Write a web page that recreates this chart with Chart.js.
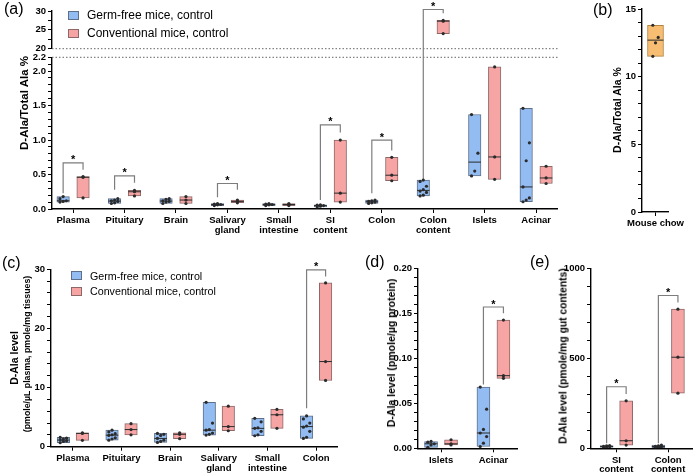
<!DOCTYPE html>
<html>
<head>
<meta charset="utf-8">
<script src="https://cdn.jsdelivr.net/npm/chart.js@4.4.1/dist/chart.umd.min.js"></script>
<style>
body { margin: 0; background: #fff; font-family: "Liberation Sans", Arial, sans-serif; }
#fig { position: relative; width: 700px; height: 476px; overflow: hidden; }
canvas { position: absolute; }
.tag { position: absolute; font-size: 16px; line-height: 16px; }
.ytitle { position: absolute; font-weight: bold; white-space: nowrap; transform: translate(-50%, -50%) rotate(-90deg); }
.legend { position: absolute; }
.legend .row { display: flex; align-items: center; white-space: nowrap; }
.legend .sw { display: inline-block; box-sizing: border-box; border: 1px solid #666; }
</style>
</head>
<body>
<div id="fig">
  <canvas id="chartATop" width="565" height="56" style="left:0;top:0"></canvas>
  <canvas id="chartA" width="565" height="200" style="left:0;top:40px"></canvas>
  <canvas id="chartB" width="100" height="235" style="left:600px;top:0"></canvas>
  <canvas id="chartC" width="345" height="236" style="left:0;top:240px"></canvas>
  <canvas id="chartD" width="185" height="236" style="left:340px;top:240px"></canvas>
  <canvas id="chartE" width="170" height="236" style="left:530px;top:240px"></canvas>

  <div class="tag" style="left:4px;top:1px">(a)</div>
  <div class="tag" style="left:593px;top:2px">(b)</div>
  <div class="tag" style="left:2px;top:255px">(c)</div>
  <div class="tag" style="left:365px;top:254px">(d)</div>
  <div class="tag" style="left:530px;top:254px">(e)</div>

  <div class="ytitle" style="left:24px;top:103px;font-size:11.5px">D-Ala/Total Ala %</div>
  <div class="ytitle" style="left:617px;top:110px;font-size:10.5px">D-Ala/Total Ala %</div>
  <div class="ytitle" style="left:14px;top:358px;font-size:10.5px">D-Ala level</div>
  <div class="ytitle" style="left:27px;top:354px;font-size:8.8px">(pmole/µL plasma, pmole/mg tissues)</div>
  <div class="ytitle" style="left:391px;top:353px;font-size:10.5px">D-Ala level (pmole/µg protein)</div>
  <div class="ytitle" style="left:563px;top:356px;font-size:10.3px">D-Ala level (pmole/mg gut contents)</div>

  <div class="legend" style="left:68px;top:6px;font-size:12px">
    <div class="row" style="height:18px"><span class="sw" style="width:11px;height:9px;background:#93bcf2;border-color:#5d6f8a;margin-right:8px"></span>Germ-free mice, control</div>
    <div class="row" style="height:18px"><span class="sw" style="width:11px;height:9px;background:#f6a4a4;border-color:#8e6767;margin-right:8px"></span>Conventional mice, control</div>
  </div>
  <div class="legend" style="left:71px;top:268px;font-size:10.7px">
    <div class="row" style="height:15.5px"><span class="sw" style="width:11px;height:9px;background:#93bcf2;border-color:#5d6f8a;margin-right:8px"></span>Germ-free mice, control</div>
    <div class="row" style="height:15.5px"><span class="sw" style="width:11px;height:9px;background:#f6a4a4;border-color:#8e6767;margin-right:8px"></span>Conventional mice, control</div>
  </div>
</div>

<script>
// ---- panel (a): D-Ala / total Ala % ----
const catsA = ['Plasma', 'Pituitary', 'Brain', ['Salivary', 'gland'], ['Small', 'intestine'],
               ['SI', 'content'], 'Colon', ['Colon', 'content'], 'Islets', 'Acinar'];
const germFreeA = [
    [0.10, 0.11, 0.12, 0.15, 0.18],
    [0.08, 0.09, 0.11, 0.12, 0.13, 0.15],
    [0.08, 0.10, 0.11, 0.12, 0.14, 0.15],
    [0.05, 0.06, 0.065, 0.07, 0.08],
    [0.05, 0.06, 0.065, 0.07, 0.08],
    [0.03, 0.04, 0.05, 0.055, 0.06],
    [0.08, 0.09, 0.10, 0.11, 0.12, 0.13],
    [0.19, 0.20, 0.24, 0.26, 0.28, 0.33, 0.40, 0.42],
    [0.48, 0.55, 0.81, 1.37],
    [0.105, 0.13, 0.16, 0.32, 0.70, 0.96, 1.46]
];
const conventionalA = [
    [0.16, 0.46, 0.47],
    [0.19, 0.25, 0.27],
    [0.08, 0.13, 0.18],
    [0.09, 0.11, 0.13],
    [0.05, 0.065, 0.08],
    [0.10, 0.23, 1.00],
    [0.41, 0.49, 0.75],
    [24.0, 27.3, 27.5],
    [0.43, 0.755, 2.06],
    [0.37, 0.45, 0.62]
];
// [category, left leg start, bracket level, right leg end]
const sigA = [[0, 0.23, 0.67, 0.57], [1, 0.28, 0.48, 0.38], [3, 0.17, 0.37, 0.28],
              [5, 0.13, 1.22, 1.11], [6, 0.23, 1.00, 0.85], [7, 0.25, 30.4, 29.4]];

// ---- panel (b) ----
const catsB = ['Mouse chow'];
const chowB = [[11.5, 12.5, 12.9, 13.8]];

// ---- panel (c): D-Ala level in plasma / tissues ----
const catsC = ['Plasma', 'Pituitary', 'Brain', ['Salivary', 'gland'], ['Small', 'intestine'], 'Colon'];
const germFreeC = [
    [0.67, 0.9, 1.0, 1.12, 1.3, 1.45, 1.57],
    [1.1, 1.3, 1.5, 1.9, 2.0, 2.2, 2.5, 2.8],
    [0.73, 0.9, 1.1, 1.4, 1.9, 2.1, 2.25],
    [1.97, 2.1, 2.3, 2.8, 2.9, 4.0, 7.5],
    [1.85, 2.0, 2.6, 3.1, 3.2, 4.2, 4.8],
    [1.4, 1.6, 2.6, 3.3, 3.5, 4.0, 4.7, 5.2]
];
const conventionalC = [[1.07, 2.25, 2.36], [2.0, 2.9, 3.9], [1.35, 2.1, 2.36],
                       [2.7, 3.4, 6.85], [3.1, 5.4, 6.3], [11.2, 14.4, 27.7]];
const sigC = [[5, 6.5, 29.9, 28.8]];

// ---- panel (d): pancreas ----
const catsD = ['Islets', 'Acinar'];
const germFreeD = [[0.0011, 0.0038, 0.005, 0.0068, 0.0076],
                   [0.002, 0.0057, 0.013, 0.017, 0.021, 0.0435, 0.068]];
const conventionalD = [[0.0038, 0.005, 0.0095], [0.0777, 0.0807, 0.1425]];
const sigD = [[1, 0.071, 0.157, 0.150]];

// ---- panel (e): gut contents ----
const catsE = [['SI', 'content'], ['Colon', 'content']];
const germFreeE = [[5, 7, 9, 11, 13, 15], [4, 6, 9, 11, 14, 18]];
const conventionalE = [[18, 42, 264], [306, 506, 773]];
const sigE = [[0, 28, 342, 302], [1, 28, 849, 810]];

const BLUE = '#93bcf2', BLUE_EDGE = '#5d6f8a';
const RED = '#f6a4a4', RED_EDGE = '#8e6767';
const ORANGE = '#f7bd72', ORANGE_EDGE = '#b3843f';
const DARK = '#2b2b2b';

Chart.defaults.font.family = '"Liberation Sans", Arial, sans-serif';
Chart.defaults.color = '#000';

function median(arr) {
    const s = arr.slice().sort((a, b) => a - b);
    const m = Math.floor(s.length / 2);
    return s.length % 2 ? s[m] : (s[m - 1] + s[m]) / 2;
}

function steps(min, max, step) {
    const out = [];
    const n = Math.round((max - min) / step);
    for (let k = 0; k <= n; k++) out.push(+(min + k * step).toFixed(6));
    return out;
}

const starPlugin = {
    id: 'stars',
    afterDatasetsDraw(chart, args, opts) {
        const { ctx } = chart;
        const xs = chart.scales.x, ys = chart.scales.y;
        (opts.items || []).forEach(s => {
            if (s.y < ys.min || s.y > ys.max + 0.05 * (ys.max - ys.min)) return;
            ctx.save();
            ctx.font = 'bold 11px "Liberation Sans", Arial, sans-serif';
            ctx.textAlign = 'center';
            ctx.textBaseline = 'alphabetic';
            ctx.fillStyle = '#000';
            ctx.fillText('*', xs.getPixelForValue(s.x), ys.getPixelForValue(s.y) + 0.5);
            ctx.restore();
        });
    }
};

function boxPanel(id, o) {
    const canvas = document.getElementById(id);
    const W = canvas.width, H = canvas.height;
    const pxPerUnit = (o.area.right - o.area.left) / (o.xMax - o.xMin);
    const u = px => px / pxPerUnit;
    const datasets = [];

    o.series.forEach(s => {
        const off = u(s.offPx);
        datasets.push({
            type: 'bar',
            data: s.values.map((p, i) => ({ x: i + off, y: [Math.min(...p), Math.max(...p)] })),
            backgroundColor: s.fill,
            borderColor: s.edge,
            borderWidth: 1,
            borderSkipped: false,
            barThickness: o.boxW,
            grouped: false,
            order: 3
        });
        datasets.push({
            type: 'scatter',
            data: s.values.map((p, i) => ({ x: i + off, y: median(p) })),
            pointStyle: 'line',
            pointRadius: o.boxW / 2,
            pointHoverRadius: o.boxW / 2,
            pointBorderColor: DARK,
            pointBorderWidth: 1,
            order: 2
        });
        const pts = [];
        s.values.forEach((p, i) => {
            p.slice().sort((a, b) => a - b).forEach((v, k) => {
                const j = p.length > 3 ? ((k % 3) - 1) * 3.2 : 0;
                pts.push({ x: i + off + u(j), y: v });
            });
        });
        datasets.push({
            type: 'scatter',
            data: pts,
            pointStyle: 'circle',
            pointRadius: 1.6,
            pointHoverRadius: 1.6,
            pointBackgroundColor: DARK,
            pointBorderWidth: 0,
            order: 1
        });
    });

    const stars = [];
    (o.brackets || []).forEach(b => {
        const [i, y0, yb, y1] = b;
        const xl = i + u(o.series[0].offPx), xr = i + u(o.series[1].offPx);
        datasets.push({
            type: 'line',
            data: [{ x: xl, y: y0 }, { x: xl, y: yb }, { x: xr, y: yb }, { x: xr, y: y1 }],
            borderColor: '#7d7d7d',
            borderWidth: 1.2,
            pointRadius: 0,
            tension: 0,
            clip: o.bracketClip || false,
            order: 4
        });
        stars.push({ x: (xl + xr) / 2, y: yb });
    });

    (o.breakLines || []).forEach(v => {
        datasets.push({
            type: 'line',
            data: [{ x: o.xMin, y: v }, { x: o.xMax, y: v }],
            borderColor: '#666',
            borderWidth: 1,
            borderDash: [1.5, 2],
            pointRadius: 0,
            clip: false,
            order: 5
        });
    });

    const showX = o.showX !== false;
    const tickFont = { size: 9.5, weight: 'bold', lineHeight: 1.02 };
    const grid = { display: true, drawOnChartArea: false, drawTicks: true, tickLength: 4, color: '#000', lineWidth: 1, offset: false };

    return new Chart(canvas, {
        type: 'bar',
        data: { datasets: datasets },
        plugins: [starPlugin],
        options: {
            responsive: false,
            animation: false,
            devicePixelRatio: 1,
            layout: {
                padding: {
                    left: o.area.left - o.yAxisW,
                    top: o.area.top,
                    right: W - o.area.right,
                    bottom: H - o.area.bottom - (showX ? o.xAxisH : 0)
                }
            },
            scales: {
                x: {
                    type: 'linear',
                    display: showX,
                    min: o.xMin,
                    max: o.xMax,
                    offset: false,
                    afterBuildTicks: s => { s.ticks = o.cats.map((c, i) => ({ value: i })); },
                    afterFit: s => { s.height = o.xAxisH; },
                    ticks: { autoSkip: false, maxRotation: 0, font: tickFont, padding: 3, callback: v => o.cats[v] },
                    grid: grid,
                    border: { display: true, color: '#000', width: 1.4 }
                },
                y: {
                    type: 'linear',
                    min: o.yMin,
                    max: o.yMax,
                    afterBuildTicks: s => { s.ticks = o.yTicks.map(v => ({ value: v })); },
                    afterFit: s => { s.width = o.yAxisW; },
                    ticks: {
                        autoSkip: false,
                        font: tickFont,
                        padding: 2,
                        callback: v => o.yMajor.some(m => Math.abs(m - v) < 1e-9) ? o.yFmt(v) : ''
                    },
                    grid: grid,
                    border: { display: true, color: '#000', width: 1.4 }
                }
            },
            plugins: {
                legend: { display: false },
                tooltip: { enabled: false },
                stars: { items: stars }
            }
        }
    });
}

const seriesA = [
    { values: germFreeA, fill: BLUE, edge: BLUE_EDGE, offPx: -10 },
    { values: conventionalA, fill: RED, edge: RED_EDGE, offPx: 10 }
];

// (a) upper segment of the broken axis
boxPanel('chartATop', {
    cats: catsA, series: seriesA, brackets: sigA,
    area: { left: 52, top: 11, right: 560, bottom: 48.7 },
    xMin: -0.41, xMax: 9.42, showX: false, xAxisH: 0, yAxisW: 40, boxW: 12.5,
    yMin: 20, yMax: 30, yTicks: [20, 22.5, 25, 27.5, 30], yMajor: [20, 25, 30], yFmt: v => String(v),
    bracketClip: { left: 10, top: 12, right: 10, bottom: 0 },
    breakLines: [20]
});

// (a) lower segment
boxPanel('chartA', {
    cats: catsA, series: seriesA, brackets: sigA,
    area: { left: 52, top: 17.3, right: 560, bottom: 169 },
    xMin: -0.41, xMax: 9.42, xAxisH: 28, yAxisW: 40, boxW: 12.5,
    yMin: 0, yMax: 2.2, yTicks: steps(0, 2.2, 0.1), yMajor: [0, 0.5, 1, 1.5, 2, 2.2], yFmt: v => v.toFixed(1),
    bracketClip: { left: 10, top: 8.6, right: 10, bottom: 0 },
    breakLines: [2.2]
});

// (b)
boxPanel('chartB', {
    cats: catsB,
    series: [{ values: chowB, fill: ORANGE, edge: ORANGE_EDGE, offPx: 0 }],
    area: { left: 42, top: 7.3, right: 74, bottom: 212 },
    xMin: -0.5, xMax: 0.5, xAxisH: 20, yAxisW: 24, boxW: 16,
    yMin: 0, yMax: 15, yTicks: steps(0, 15, 1), yMajor: [0, 5, 10, 15], yFmt: v => String(v)
});

// (c)
boxPanel('chartC', {
    cats: catsC,
    series: [
        { values: germFreeC, fill: BLUE, edge: BLUE_EDGE, offPx: -9.5 },
        { values: conventionalC, fill: RED, edge: RED_EDGE, offPx: 9.5 }
    ],
    brackets: sigC,
    area: { left: 51, top: 29.3, right: 337, bottom: 206.7 },
    xMin: -0.45, xMax: 5.43, xAxisH: 26, yAxisW: 30, boxW: 12.5,
    yMin: 0, yMax: 30, yTicks: steps(0, 30, 2), yMajor: [0, 10, 20, 30], yFmt: v => String(v)
});

// (d)
boxPanel('chartD', {
    cats: catsD,
    series: [
        { values: germFreeD, fill: BLUE, edge: BLUE_EDGE, offPx: -10 },
        { values: conventionalD, fill: RED, edge: RED_EDGE, offPx: 10 }
    ],
    brackets: sigD,
    area: { left: 78, top: 28.3, right: 177, bottom: 208.3 },
    xMin: -0.44, xMax: 1.45, xAxisH: 24, yAxisW: 34, boxW: 13,
    yMin: 0, yMax: 0.2, yTicks: steps(0, 0.2, 0.01), yMajor: [0, 0.05, 0.1, 0.15, 0.2], yFmt: v => v.toFixed(2)
});

// (e)
boxPanel('chartE', {
    cats: catsE,
    series: [
        { values: germFreeE, fill: BLUE, edge: BLUE_EDGE, offPx: -10.3 },
        { values: conventionalE, fill: RED, edge: RED_EDGE, offPx: 10.3 }
    ],
    brackets: sigE,
    area: { left: 61, top: 28.3, right: 168, bottom: 208.3 },
    xMin: -0.49, xMax: 1.47, xAxisH: 24, yAxisW: 30, boxW: 13,
    yMin: 0, yMax: 1000, yTicks: steps(0, 1000, 100), yMajor: [0, 500, 1000], yFmt: v => String(v)
});
</script>
</body>
</html>
